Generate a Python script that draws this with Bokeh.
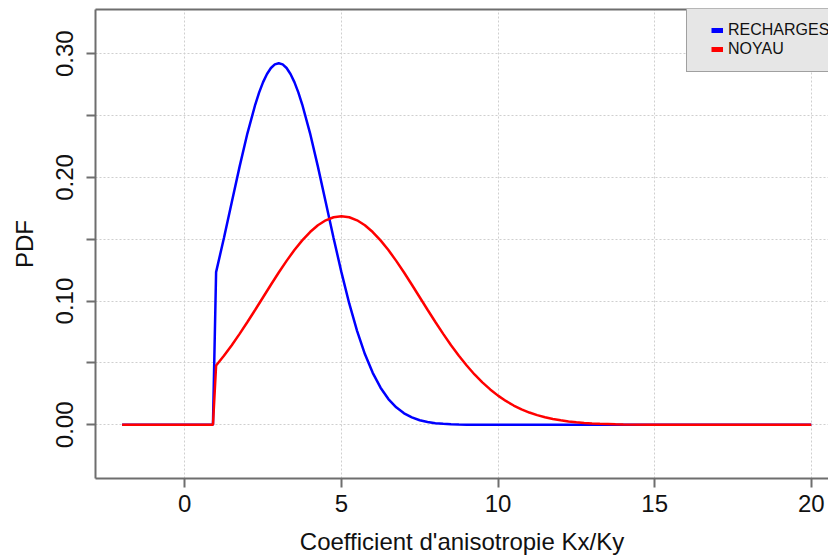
from bokeh.plotting import figure
from bokeh.models import FixedTicker, LinearAxis, Legend, LegendItem, Range1d, NumeralTickFormatter
from bokeh.embed import file_html
from bokeh.resources import INLINE

# ---- data ----
x_recharges = [-2.0, 0.9, 1.0, 1.25, 1.5, 1.75, 2.0, 2.25, 2.375, 2.5, 2.625, 2.75, 2.875,
               3.0, 3.125, 3.25, 3.375, 3.5, 3.625, 3.75,
               4.0, 4.25, 4.5, 4.75, 5.0, 5.25, 5.5, 5.75, 6.0, 6.25, 6.5, 6.75, 7.0, 7.25,
               7.5, 7.75, 8.0, 8.25, 8.5, 8.75, 9.0, 10.0, 12.0, 14.0, 16.0, 18.0, 20.0]
y_recharges = [0.0, 0.0, 0.1234, 0.1510, 0.1799, 0.2087, 0.2356, 0.2589, 0.2687, 0.2770,
               0.2836, 0.2884, 0.2913,
               0.2923, 0.2913, 0.2884, 0.2836, 0.2770, 0.2687, 0.2589,
               0.2356, 0.2087, 0.1799, 0.1510, 0.1234,
               0.0981, 0.0760, 0.0572, 0.0420, 0.0300, 0.0208, 0.0141, 0.0093, 0.0060,
               0.0037, 0.0023, 0.0013, 0.0008, 0.0004, 0.0002, 0.0001,
               0.0, 0.0, 0.0, 0.0, 0.0, 0.0]

x_noyau = [-2.0, 0.9, 1.0, 1.25, 1.5, 1.75, 2.0, 2.25, 2.5, 2.75, 3.0, 3.25, 3.5, 3.75,
           4.0, 4.25, 4.5, 4.75, 5.0, 5.25, 5.5, 5.75, 6.0, 6.25, 6.5, 6.75, 7.0, 7.25,
           7.5, 7.75, 8.0, 8.25, 8.5, 8.75, 9.0, 9.25, 9.5, 9.75, 10.0, 10.25, 10.5, 10.75,
           11.0, 11.25, 11.5, 11.75, 12.0, 12.25, 12.5, 12.75, 13.0, 13.25, 13.5, 13.75,
           14.0, 15.0, 16.0, 17.0, 18.0, 19.0, 20.0]
y_noyau = [0.0, 0.0, 0.0479, 0.0558, 0.0643, 0.0735, 0.0831, 0.0930, 0.1031, 0.1132,
           0.1231, 0.1325, 0.1413, 0.1491, 0.1558, 0.1613, 0.1653, 0.1678, 0.1686,
           0.1678, 0.1653, 0.1613, 0.1558, 0.1491, 0.1413, 0.1325, 0.1231, 0.1132,
           0.1031, 0.0930, 0.0831, 0.0735, 0.0643, 0.0558, 0.0479, 0.0407, 0.0343,
           0.0286, 0.0236, 0.0193, 0.0156, 0.0125, 0.0099, 0.0078, 0.0061, 0.0047,
           0.0036, 0.0027, 0.0020, 0.0015, 0.0011, 0.0008, 0.0006, 0.0004, 0.0003,
           0.0001, 0.0, 0.0, 0.0, 0.0, 0.0]

series_names = ["RECHARGES", "NOYAU"]
series_colors = ["#0000ff", "#ff0000"]

x_ticks = [0, 5, 10, 15, 20]
y_major_ticks = [0.0, 0.10, 0.20, 0.30]
y_minor_ticks = [0.05, 0.15, 0.25]

x_title = "Coefficient d'anisotropie Kx/Ky"
y_title = "PDF"

# ---- styling ----
FONT = "Liberation Sans"
FRAME = "#6e6e6e"
GRID = "#cfcfcf"

p = figure(width=828, height=557, output_backend="svg", toolbar_location=None,
           x_range=Range1d(-2.85, 20.55), y_range=Range1d(-0.0434, 0.3357),
           min_border_left=95, min_border_right=0, min_border_top=9, min_border_bottom=79,
           background_fill_color="white", border_fill_color="white")
p.outline_line_color = None

# bottom axis
xa = p.xaxis[0]
xa.ticker = FixedTicker(ticks=x_ticks)
xa.axis_label = x_title
xa.axis_label_text_font = FONT
xa.axis_label_text_font_style = "normal"
xa.axis_label_text_font_size = "24px"
xa.axis_label_text_color = "#111111"
xa.axis_label_standoff = 13
xa.major_label_text_font = FONT
xa.major_label_text_font_size = "24px"
xa.major_label_text_color = "#111111"
xa.major_label_standoff = 7
xa.axis_line_color = FRAME
xa.axis_line_width = 2
xa.major_tick_line_color = FRAME
xa.major_tick_line_width = 2
xa.major_tick_out = 9
xa.major_tick_in = 0
xa.minor_tick_line_color = None

# left axis
ya = p.yaxis[0]
ya.ticker = FixedTicker(ticks=y_major_ticks, minor_ticks=y_minor_ticks)
ya.formatter = NumeralTickFormatter(format="0.00")
ya.axis_label = y_title
ya.axis_label_text_font = FONT
ya.axis_label_text_font_style = "normal"
ya.axis_label_text_font_size = "24px"
ya.axis_label_text_color = "#111111"
ya.axis_label_standoff = 16
ya.major_label_text_font = FONT
ya.major_label_text_font_size = "24px"
ya.major_label_text_color = "#111111"
ya.major_label_orientation = "vertical"
ya.major_label_standoff = 13
ya.axis_line_color = FRAME
ya.axis_line_width = 2
ya.major_tick_line_color = FRAME
ya.major_tick_line_width = 2
ya.major_tick_out = 9
ya.major_tick_in = 0
ya.minor_tick_line_color = FRAME
ya.minor_tick_line_width = 2
ya.minor_tick_out = 9
ya.minor_tick_in = 0

# top frame line (right side is cut off in the reference)
top_axis = LinearAxis(ticker=FixedTicker(ticks=[]), major_label_text_font_size="0px",
                      major_tick_out=0, major_tick_in=0, minor_tick_out=0, minor_tick_in=0,
                      major_label_standoff=0, axis_line_color=FRAME, axis_line_width=2)
p.add_layout(top_axis, "above")

# grids
p.xgrid.ticker = FixedTicker(ticks=x_ticks)
p.xgrid.grid_line_color = GRID
p.xgrid.grid_line_dash = "2 2"
p.xgrid.grid_line_width = 1
p.ygrid.ticker = FixedTicker(ticks=y_major_ticks, minor_ticks=y_minor_ticks)
p.ygrid.grid_line_color = GRID
p.ygrid.grid_line_dash = "2 2"
p.ygrid.grid_line_width = 1
p.ygrid.minor_grid_line_color = GRID
p.ygrid.minor_grid_line_dash = "2 2"
p.ygrid.minor_grid_line_width = 1

# curves
p.line(x_recharges, y_recharges, line_color=series_colors[0], line_width=2.5)
p.line(x_noyau, y_noyau, line_color=series_colors[1], line_width=2.5)

# legend swatches: short thick bars, like R's filled legend boxes
# (a single NaN point so the renderer is not empty but draws nothing in the plot)
NAN = float("nan")
swatches = []
for c in series_colors:
    swatches.append(p.line(x=[NAN], y=[NAN], line_color=c, line_width=5, line_cap="butt"))

legend = Legend(items=[LegendItem(label=n, renderers=[r]) for n, r in zip(series_names, swatches)],
                location=(591, 406), orientation="vertical",
                title=" ", title_location="left", title_text_font_size="1px", title_standoff=10,
                padding=13, spacing=1, margin=0,
                glyph_width=12, glyph_height=8, label_height=18, label_standoff=5,
                label_text_font=FONT, label_text_font_size="16px", label_text_color="#111111",
                background_fill_color="#e6e6e6", background_fill_alpha=1.0,
                border_line_color="#5a5a5a", border_line_width=1.5)
p.add_layout(legend)

open("out.html", "w").write(file_html(p, INLINE))
